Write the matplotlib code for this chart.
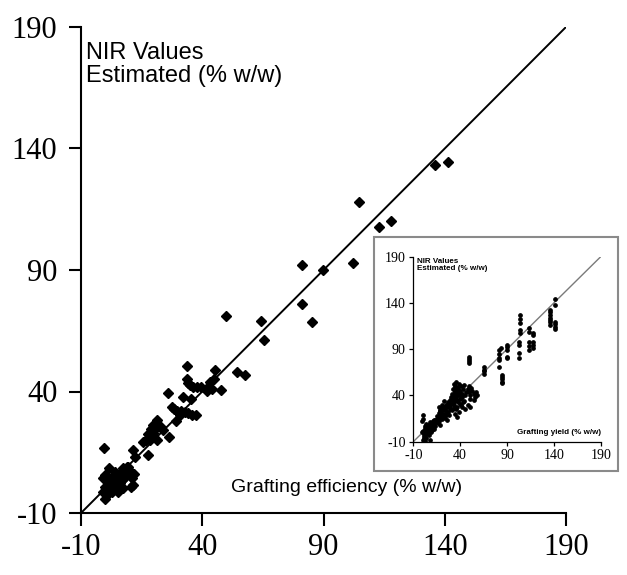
import matplotlib
matplotlib.use("Agg")
import matplotlib.pyplot as plt
from matplotlib.patches import Rectangle

plt.rcParams["axes.unicode_minus"] = False

# ---- main panel: NIR estimate vs. grafting efficiency ----
main_x = [33.6, 45.3, 54.2, 57.6, 33.6, 34.0, 35.0, 36.3, 37.8, 39.4, 43.2, 44.9, 42.5,
          41.8, 44.0, 47.6, 25.7, 31.9, 35.2, 27.4, 28.4, 29.7, 31.2, 32.9, 34.3, 35.8,
          37.4, 30.8, 29.2, 26.3, 21.2, 19.8, 18.7, 19.8, 17.8, 21.5, 22.9, 24.0, 16.8,
          15.7, 18.5, 21.2, 17.8, 11.6, 12.3, 9.5, -0.4, 1.7, -0.1, -0.8, 0.6, 2.6, 1.3,
          -0.1, -0.8, 0.6, -0.1, 2.0, 3.3, 4.7, 6.1, 4.0, 6.1, 7.5, 8.8, 10.2, 11.9, 10.9,
          8.1, 6.8, 7.5, 10.5, 11.6, 5.4, 2.6, 4.7,
          49.7, 64.2, 65.6, 81.3, 81.3, 85.4, 89.7, 102.2, 104.5, 112.9, 118.0, 136.1, 141.3]
main_y = [50.5, 48.9, 47.9, 46.8, 45.0, 43.6, 42.5, 42.0, 41.7, 41.9, 44.1, 45.0, 41.7,
          40.3, 40.9, 40.6, 39.2, 37.6, 37.1, 33.8, 32.7, 32.1, 32.1, 31.7, 31.0, 30.5,
          30.2, 30.3, 27.9, 21.4, 28.3, 26.2, 24.4, 23.1, 22.5, 25.3, 25.5, 24.2, 20.0,
          19.4, 20.0, 20.0, 13.9, 15.9, 13.2, 9.1, 16.6, 8.4, 5.6, 4.3, 3.6, 4.9, 1.5,
          0.8, -1.2, -2.6, -4.4, 0.8, 2.2, 0.8, 2.2, 7.0, 6.3, 8.4, 9.1, 7.4, 6.0, 4.3,
          4.9, 3.6, 0.2, 0.8, 1.5, -1.2, -1.2, 3.6,
          71.2, 69.0, 61.2, 92.1, 75.9, 68.5, 90.0, 92.8, 117.9, 107.8, 110.0, 133.1, 134.6]

# ---- inset: NIR estimate vs. grafting yield ----
inset_x = [0, 1, 2, 3, 1, 2, 4, 3, 5, 6, 5, 7, 8, 6, 9, 10, 11, 12, 4, 7, 9, 10, 12, 13,
           8, 2, 0, -1, 14, 11, 13, 0, 0, -1, 1, 3, 5, 7, 9, 11, 2, 4, 6, 8, 10, 12,
           15, 16, 17, 18, 19, 20, 21, 22, 22, 23, 24, 25, 25, 26, 27, 27, 28, 29, 29, 30,
           30, 20, 18, 16, 24, 26, 28, 17, 21, 23, 19, 15, 17, 19, 21, 23, 25, 27, 29,
           31, 32, 32, 33, 33, 34, 34, 35, 35, 36, 36, 37, 37, 38, 38, 39, 39, 40, 40, 41,
           41, 42, 42, 43, 44, 44, 45, 46, 36, 39, 33, 37, 42, 45, 31, 34, 31, 33, 35, 37,
           39, 41, 43, 32, 34, 36, 38, 40,
           48, 49, 49, 50, 51, 52, 53, 55, 56, 55, 57, 58, 48, 50,
           49, 49, 49, 49, 65, 65, 65, 65, 81, 81, 81, 81, 81, 84, 85, 85, 85, 85, 85,
           90, 90, 90, 90, 90, 104, 104, 104, 104, 104, 103, 103, 103, 103,
           114, 114, 113, 113, 113, 118, 118, 118, 118, 118,
           136, 136, 136, 136, 136, 136, 136, 141, 141, 141, 141, 141, 141]
inset_y = [-8, -6, -9, -4, -2, 0, 1, 3, -1, 2, 5, 4, 7, 8, 9, 6, 8, 10, -6, -3, 0, 3, 4, 7,
           -8, 5, 2, 0, 11, 12, 13, 19, 15, 12, -4, -1, 1, 2, 5, 6, 7, 9, 4, 11, 8, 13,
           14, 17, 12, 19, 16, 21, 18, 24, 28, 20, 26, 30, 23, 27, 33, 22, 29, 35, 25, 31,
           38, 26, 23, 10, 16, 13, 19, 28, 30, 34, 8, 18, 21, 24, 15, 27, 19, 31, 27,
           42, 36, 47, 30, 52, 40, 45, 34, 50, 38, 55, 43, 28, 47, 33, 52, 40, 36, 45, 50,
           30, 42, 38, 47, 34, 51, 40, 44, 25, 22, 26, 17, 28, 25, 24, 20, 35, 39, 44, 35,
           43, 37, 33, 32, 48, 41, 49, 31,
           47, 44, 50, 40, 36, 48, 45, 42, 38, 35, 44, 40, 30, 27,
           82, 79, 77, 75, 71, 68, 66, 63, 89, 85, 80, 78, 71, 91, 62, 60, 58, 55, 53,
           95, 92, 89, 82, 80, 127, 123, 118, 111, 107, 98, 95, 86, 81,
           113, 109, 98, 93, 89, 108, 105, 98, 95, 91,
           132, 130, 127, 124, 122, 119, 116, 144, 138, 119, 117, 114, 112]

ticks = [-10, 40, 90, 140, 190]
ref_line = [-10, 190]

W, H = 627, 575
fig = plt.figure(figsize=(W / 100, H / 100), dpi=100)
serif = "Liberation Serif"
sans = "Liberation Sans"

ax = fig.add_axes([81 / W, (H - 513) / H, (566 - 81) / W, (513 - 27) / H])
ax.plot(ref_line, ref_line, color="black", lw=1.4, zorder=2)
ax.plot(main_x, main_y, ls="none", marker="D", ms=5.4, color="black", zorder=3)
ax.set_xlim(-10, 190)
ax.set_ylim(-10, 190)
ax.set_xticks(ticks)
ax.set_yticks(ticks)
for s in ("top", "right"):
    ax.spines[s].set_visible(False)
for s in ("left", "bottom"):
    ax.spines[s].set_linewidth(1.5)
ax.tick_params(axis="both", direction="out", length=9, width=1.5, labelsize=22)
ax.tick_params(axis="x", pad=5.5)
ax.tick_params(axis="y", pad=8)
for lab in ax.get_xticklabels() + ax.get_yticklabels():
    lab.set_fontfamily(serif)
ax.text(0.01, 0.97, "NIR Values\nEstimated (% w/w)", transform=ax.transAxes,
        ha="left", va="top", fontsize=17, family=sans, linespacing=1.08)
ax.text(0.785, 0.035, "Grafting efficiency (% w/w)", transform=ax.transAxes,
        ha="right", va="bottom", fontsize=14, family=sans)

# inset frame
frame = Rectangle((374 / W, (H - 471) / H), (618 - 374) / W, (471 - 237) / H,
                  transform=fig.transFigure, facecolor="white", edgecolor="#8a8a8a",
                  lw=1.5, zorder=5)
fig.patches.append(frame)

ia = fig.add_axes([413.3 / W, (H - 441.7) / H, 187.4 / W, 185 / H], zorder=6)
ia.patch.set_alpha(0)
ia.plot(ref_line, ref_line, color="#7a7a7a", lw=1.0, zorder=2)
ia.plot(inset_x, inset_y, ls="none", marker="o", ms=2.4, color="black", zorder=3)
ia.set_xlim(-10, 190)
ia.set_ylim(-10, 190)
ia.set_xticks(ticks)
ia.set_yticks(ticks)
for s in ("top", "right"):
    ia.spines[s].set_visible(False)
for s in ("left", "bottom"):
    ia.spines[s].set_linewidth(0.9)
ia.tick_params(axis="both", direction="out", length=3, width=0.9, labelsize=10, pad=2.5)
for lab in ia.get_xticklabels() + ia.get_yticklabels():
    lab.set_fontfamily(serif)
ia.text(0.02, 0.995, "NIR Values\nEstimated (% w/w)", transform=ia.transAxes,
        ha="left", va="top", fontsize=5.8, family=sans, fontweight="bold", linespacing=1.1)
ia.text(1.0, 0.03, "Grafting yield (% w/w)", transform=ia.transAxes,
        ha="right", va="bottom", fontsize=5.8, family=sans, fontweight="bold")

fig.savefig("out.png", dpi=100)
